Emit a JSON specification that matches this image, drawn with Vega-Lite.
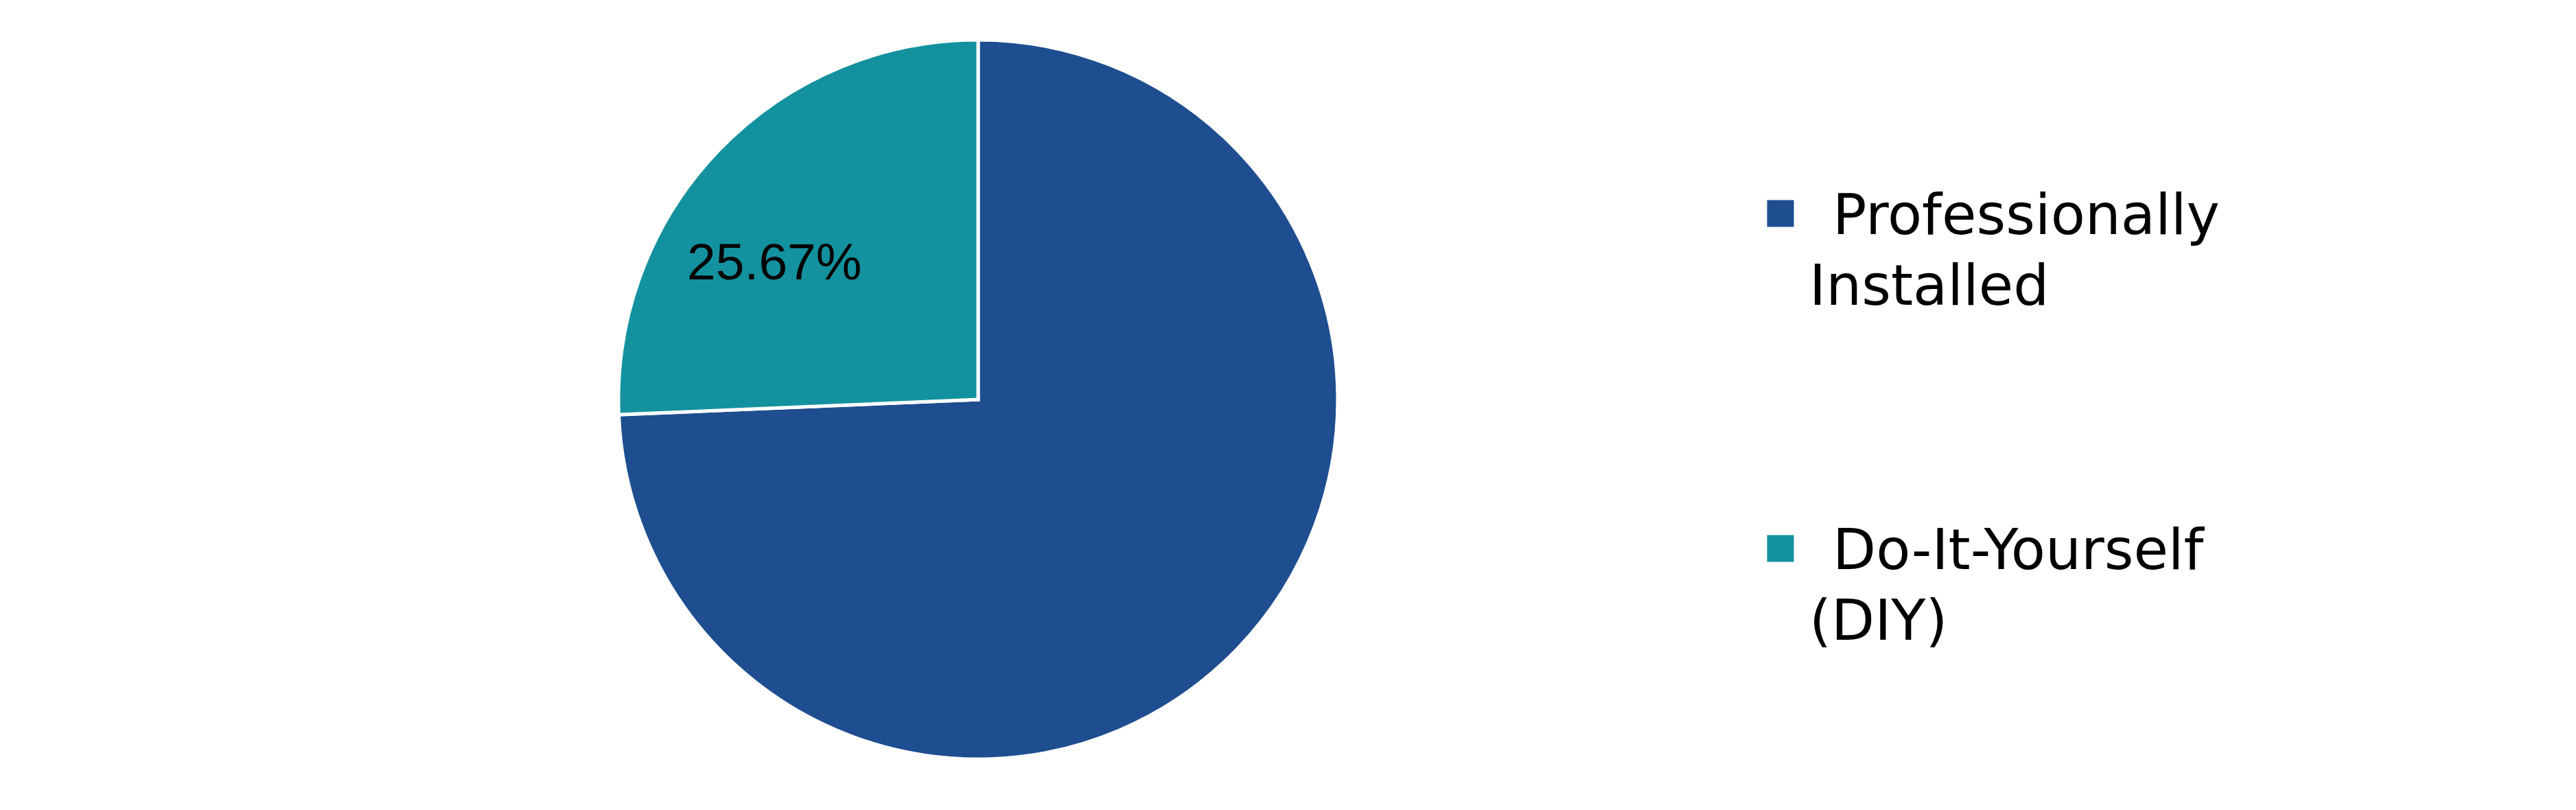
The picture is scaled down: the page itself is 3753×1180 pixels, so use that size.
{
  "$schema": "https://vega.github.io/schema/vega-lite/v6.json",
  "padding": {"left": 875, "top": 0, "right": 0, "bottom": 0},
  "background": "white",
  "config": {"view": {"stroke": null}},
  "spacing": 599,
  "data": {
    "values": [
      {"category": "Professionally Installed", "value": 74.33, "label": "", "line1": "Professionally", "line2": "Installed"},
      {"category": "Do-It-Yourself (DIY)", "value": 25.67, "label": "25.67%", "line1": "Do-It-Yourself", "line2": "(DIY)"}
    ]
  },
  "hconcat": [
    {
      "width": 1100,
      "height": 1164,
      "encoding": {
        "theta": {"field": "value", "type": "quantitative", "stack": true},
        "order": {"field": "value", "type": "quantitative", "sort": "descending"}
      },
      "layer": [
        {
          "mark": {"type": "arc", "outerRadius": 524, "stroke": "white", "strokeWidth": 5},
          "encoding": {
            "color": {
              "field": "category",
              "type": "nominal",
              "scale": {
                "domain": ["Professionally Installed", "Do-It-Yourself (DIY)"],
                "range": ["#1F4E90", "#13919E"]
              },
              "legend": null
            }
          }
        },
        {
          "mark": {"type": "text", "radius": 357, "font": "Liberation Sans", "fontSize": 75, "color": "black", "dx": -39, "dy": 49},
          "encoding": {
            "text": {"field": "label", "type": "nominal"}
          }
        }
      ]
    },
    {
      "width": 40,
      "height": 1110,
      "encoding": {
        "y": {
          "field": "category",
          "type": "nominal",
          "scale": {
            "type": "point",
            "domain": ["Professionally Installed", "Do-It-Yourself (DIY)"],
            "padding": 0.637
          },
          "axis": null
        }
      },
      "layer": [
        {
          "mark": {"type": "point", "shape": "square", "filled": true, "size": 1521, "opacity": 1},
          "encoding": {
            "color": {"field": "category", "type": "nominal", "legend": null}
          }
        },
        {
          "mark": {"type": "text", "align": "left", "baseline": "alphabetic", "font": "DejaVu Sans", "fontSize": 82, "color": "black", "dx": 76, "dy": 30},
          "encoding": {
            "text": {"field": "line1", "type": "nominal"}
          }
        },
        {
          "mark": {"type": "text", "align": "left", "baseline": "alphabetic", "font": "DejaVu Sans", "fontSize": 82, "color": "black", "dx": 42, "dy": 133},
          "encoding": {
            "text": {"field": "line2", "type": "nominal"}
          }
        }
      ]
    }
  ]
}
